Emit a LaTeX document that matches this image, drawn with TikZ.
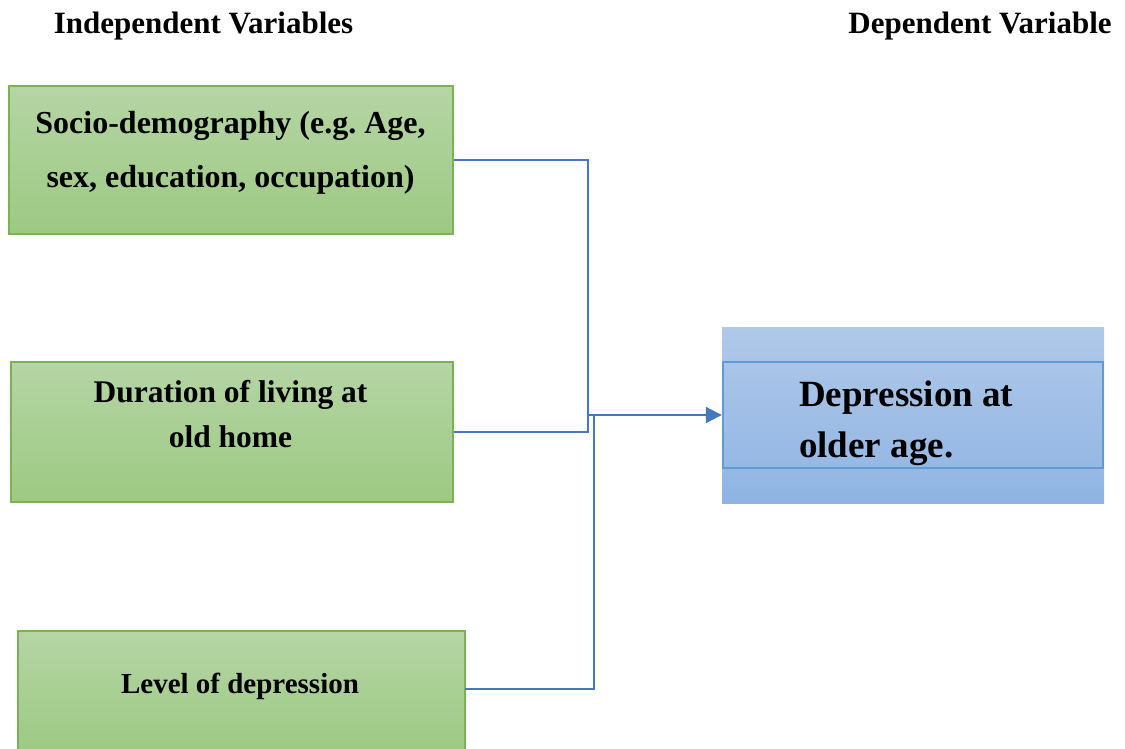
\documentclass[tikz,border=0pt]{standalone}
\usepackage{fontspec}
\setmainfont{Liberation Serif}
\frenchspacing
\usetikzlibrary{arrows.meta}
\definecolor{gtop}{RGB}{181,213,165}
\definecolor{gbot}{RGB}{157,201,131}
\definecolor{gline}{RGB}{122,178,85}
\definecolor{btop}{RGB}{176,201,233}
\definecolor{bbot}{RGB}{143,180,227}
\definecolor{bline}{RGB}{96,155,212}
\definecolor{conn}{RGB}{70,120,190}
\tikzset{
  greenbox/.style={draw=gline, line width=1.3pt, top color=gtop, bottom color=gbot, rectangle, inner sep=0pt},
  bluebox/.style={top color=btop, bottom color=bbot, rectangle, inner sep=0pt},
  innerbox/.style={draw=bline, line width=1.3pt, rectangle, inner sep=0pt},
  connector/.style={draw=conn, line width=2pt},
  arrowline/.style={connector, -{Triangle[length=16pt,width=16pt]}},
  hdr/.style={font=\fontsize{31}{36}\selectfont\bfseries, inner sep=0pt, anchor=base},
  txt/.style={font=\fontsize{31.5}{36}\selectfont\bfseries, inner sep=0pt, anchor=base},
  txtone/.style={font=\fontsize{32}{36}\selectfont\bfseries, inner sep=0pt, anchor=base},
  txtsmall/.style={font=\fontsize{29}{34}\selectfont\bfseries, inner sep=0pt, anchor=base},
  bigtxt/.style={font=\fontsize{37}{42}\selectfont\bfseries, inner sep=0pt, anchor=base west}
}
\begin{document}
\begin{tikzpicture}[x=1pt,y=-1pt]
\useasboundingbox (0,0) rectangle (1125,748);
% headers
\node[hdr] (h1) at (203.5,33) {Independent Variables};
\node[hdr] (h2) at (980,33) {Dependent Variable};
% boxes
\node[greenbox, minimum width=444pt, minimum height=148pt] (box1) at (231,160) {};
\node[greenbox, minimum width=442pt, minimum height=140pt] (box2) at (232,432) {};
\node[greenbox, minimum width=447pt, minimum height=125pt] (box3) at (241.5,693.5) {};
\node[bluebox, minimum width=382pt, minimum height=176pt] (blue) at (913,415) {};
\node[innerbox, minimum width=380pt, minimum height=106pt] (inner) at (913,415) {};
% texts
\node[txtone] (t1a) at (230.5,133) {Socio-demography (e.g. Age,};
\node[txtone] (t1b) at (230.5,187) {sex, education, occupation)};
\node[txt] (t2a) at (230.5,402) {Duration of living at};
\node[txt] (t2b) at (230.5,447) {old home};
\node[txtsmall] (t3) at (240,693) {Level of depression};
\node[bigtxt] (t4a) at (799,406) {Depression at};
\node[bigtxt] (t4b) at (799,457) {older age.};
% connectors
\coordinate (j1) at (588,432);
\coordinate (j0) at (588,415);
\coordinate (j2) at (594,415);
\coordinate (b3e) at (465,689);
\draw[connector] (box1.east) -| (j1) -- (box2.east);
\draw[connector] (b3e) -| (j2);
\draw[arrowline] (j0) -- (blue.west);
\end{tikzpicture}
\end{document}
